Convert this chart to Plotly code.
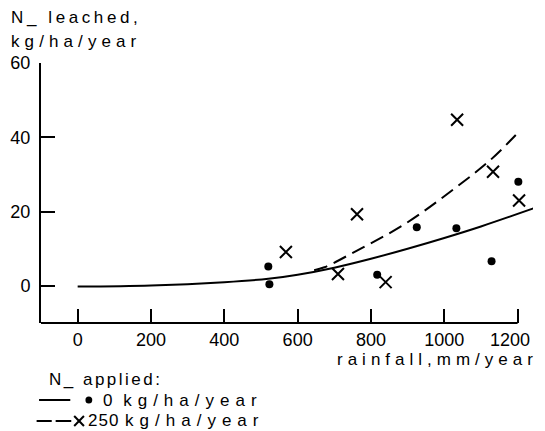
import plotly.graph_objects as go

# ---- data ----
rain_0 = [520, 523, 817, 925, 1033, 1129, 1202]
leach_0 = [5.2, 0.4, 3.0, 15.8, 15.5, 6.6, 28.0]
rain_250 = [568, 710, 762, 840, 1035, 1133, 1204]
leach_250 = [9.1, 3.2, 19.3, 1.0, 44.7, 30.7, 23.0]

curve_x_0 = [0, 200, 400, 520, 600, 700, 800, 900, 1000, 1100, 1247]
curve_y_0 = [-0.2, 0.1, 1.0, 1.9, 3.0, 4.9, 7.3, 10.0, 12.9, 16.0, 21.0]
curve_x_250 = [645, 673, 762, 895, 1033, 1126, 1195]
curve_y_250 = [4.2, 5.0, 9.5, 16.8, 26.6, 33.9, 40.6]

x_ticks = [0, 200, 400, 600, 800, 1000, 1200]
x_tick_labels = ["0", "200", "400", "600", "800", "1000", "1200"]
y_ticks = [0, 20, 40, 60]
y_tick_labels = ["0", "20", "40", "60"]

W, H = 545, 431
ML, MR, MT, MB = 41, 0, 63, 108
PW, PH = W - ML - MR, H - MT - MB
FONT = "Liberation Sans"


def sp(text, ls):
    return f'<span style="letter-spacing:{ls}px">{text}</span>'


def px_x(px):
    return (px - ML) / PW


def px_y(py):
    return (H - MB - py) / PH


fig = go.Figure()

fig.add_trace(go.Scatter(x=curve_x_0, y=curve_y_0, mode="lines",
                         line=dict(color="black", width=2, shape="spline"),
                         showlegend=False, hoverinfo="skip"))
fig.add_trace(go.Scatter(x=curve_x_250, y=curve_y_250, mode="lines",
                         line=dict(color="black", width=2, shape="spline", dash="14px,7px"),
                         showlegend=False, hoverinfo="skip"))
fig.add_trace(go.Scatter(x=rain_0, y=leach_0, mode="markers",
                         marker=dict(symbol="circle", size=8, color="black"),
                         cliponaxis=False, showlegend=False))
fig.add_trace(go.Scatter(x=rain_250, y=leach_250, mode="markers",
                         marker=dict(symbol="x-thin", size=12, color="black",
                                     line=dict(color="black", width=2)),
                         cliponaxis=False, showlegend=False))

annotations = []


def ann(text, px, py, anchor="left", size=17):
    annotations.append(dict(text=text, x=px_x(px), y=px_y(py),
                            xref="paper", yref="paper", xanchor=anchor, yanchor="middle",
                            showarrow=False, font=dict(family=FONT, size=size, color="black")))


ann(sp("N_ leached,", 3.6), 8, 18)
ann(sp("kg/ha/year", 5.1), 8, 41)
ann(sp("rainfall,mm/year", 5), 342, 359.5)
ann(sp("N_ applied:", 2.5), 47, 379)
ann(sp("0 ", 3) + sp("kg/ha/year", 6), 102, 400)
ann(sp("250 ", 1) + sp("kg/ha/year", 6), 87, 420.5)

shapes = [
    # x axis line from -100 to 1200
    dict(type="line", xref="x", yref="paper", x0=-100, x1=1200, y0=0, y1=0,
         line=dict(color="black", width=2)),
    # legend glyphs
    dict(type="line", xref="paper", yref="paper", x0=px_x(39), x1=px_x(71),
         y0=px_y(400), y1=px_y(400), line=dict(color="black", width=2)),
    dict(type="circle", xref="paper", yref="paper", x0=px_x(86.5), x1=px_x(93.5),
         y0=px_y(396.5), y1=px_y(403.5), fillcolor="black", line=dict(color="black", width=0)),
    dict(type="line", xref="paper", yref="paper", x0=px_x(36.5), x1=px_x(52),
         y0=px_y(421), y1=px_y(421), line=dict(color="black", width=2)),
    dict(type="line", xref="paper", yref="paper", x0=px_x(56), x1=px_x(72),
         y0=px_y(421), y1=px_y(421), line=dict(color="black", width=2)),
    dict(type="line", xref="paper", yref="paper", x0=px_x(75), x1=px_x(85),
         y0=px_y(416), y1=px_y(426), line=dict(color="black", width=2)),
    dict(type="line", xref="paper", yref="paper", x0=px_x(75), x1=px_x(85),
         y0=px_y(426), y1=px_y(416), line=dict(color="black", width=2)),
]

xt = list(x_tick_labels)
xt[-1] = xt[-1] + "&nbsp;&nbsp;&nbsp;"

fig.update_layout(
    width=W, height=H,
    margin=dict(l=ML, r=MR, t=MT, b=MB, pad=0),
    paper_bgcolor="white", plot_bgcolor="white",
    font=dict(family=FONT, size=17, color="black"),
    annotations=annotations,
    shapes=shapes,
    xaxis=dict(range=[-100, 1242], showline=False, showgrid=False, zeroline=False,
               ticks="inside", ticklen=14, tickwidth=2, tickcolor="black",
               tickvals=x_ticks, ticktext=xt, ticklabeloverflow="allow",
               ticklabelstandoff=4,
               tickfont=dict(family=FONT, size=18, color="black")),
    yaxis=dict(range=[-10, 60], showline=True, linewidth=2, linecolor="black",
               showgrid=False, zeroline=False,
               ticks="inside", ticklen=14, tickwidth=2, tickcolor="black",
               tickvals=y_ticks, ticktext=y_tick_labels,
               ticklabelstandoff=5,
               tickfont=dict(family=FONT, size=18, color="black")),
)

fig.write_html("out.html")
